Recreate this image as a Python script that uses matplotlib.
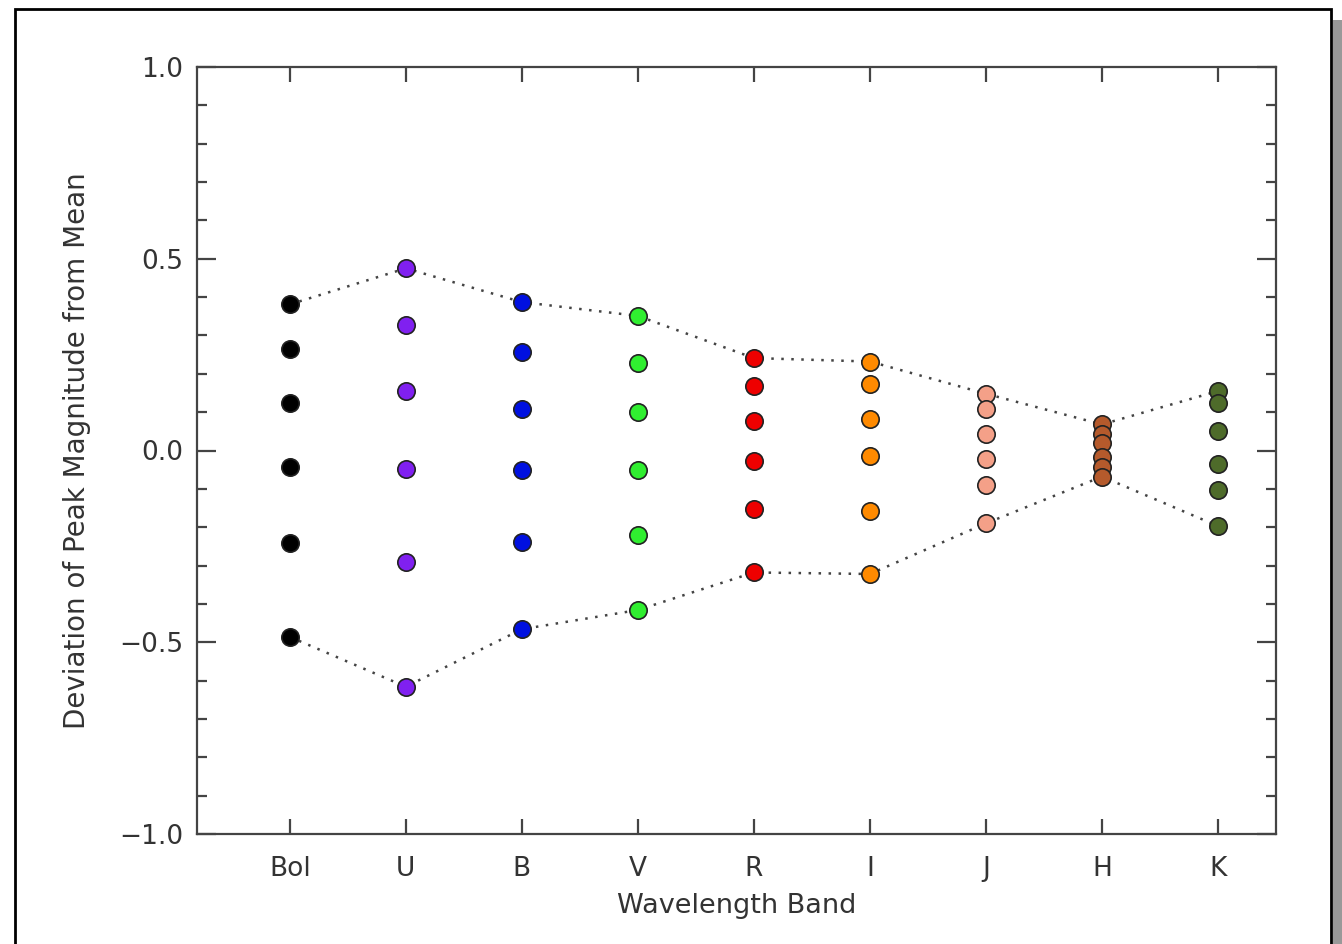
import numpy as np
import matplotlib
matplotlib.use('Agg')
import matplotlib.pyplot as plt
from matplotlib.patches import Rectangle
from matplotlib.ticker import MultipleLocator

# Photometric bands and per-band peak magnitude deviations
bands = ['Bol', 'U', 'B', 'V', 'R', 'I', 'J', 'H', 'K']
dev_bol = [0.381, 0.264, 0.123, -0.042, -0.240, -0.486]
dev_u = [0.475, 0.326, 0.154, -0.047, -0.292, -0.616]
dev_b = [0.387, 0.257, 0.109, -0.052, -0.239, -0.466]
dev_v = [0.351, 0.229, 0.100, -0.052, -0.220, -0.416]
dev_r = [0.241, 0.168, 0.078, -0.028, -0.152, -0.318]
dev_i = [0.232, 0.174, 0.083, -0.015, -0.157, -0.322]
dev_j = [0.148, 0.107, 0.044, -0.022, -0.091, -0.190]
dev_h = [0.068, 0.042, 0.020, -0.018, -0.042, -0.068]
dev_k = [0.155, 0.125, 0.052, -0.035, -0.104, -0.197]
band_colors = ['#000000', '#8020f0', '#0010e0', '#30ee30', '#ee0000',
               '#ff8a00', '#f4a088', '#b55a2c', '#4e6b2a']

all_dev = [dev_bol, dev_u, dev_b, dev_v, dev_r, dev_i, dev_j, dev_h, dev_k]
xpos = np.arange(1, len(bands) + 1)

plt.rcParams['font.family'] = ['DejaVu Sans']
fig = plt.figure(figsize=(13.42, 9.44), dpi=100)

# drop shadow and outer frame
fig.patches.append(Rectangle((1333 / 1342, -0.05), 0.05, 1 - 20 / 944 + 0.05,
                             transform=fig.transFigure, facecolor='#999999',
                             edgecolor='none', zorder=0))
fig.patches.append(Rectangle((15 / 1342, -0.05), (1331 - 15) / 1342, 1 - 9 / 944 + 0.05,
                             transform=fig.transFigure, facecolor='white',
                             edgecolor='black', linewidth=2, zorder=1))

ax = fig.add_axes([197 / 1342, 110 / 944, (1276 - 197) / 1342, (834 - 67) / 944])
ax.set_zorder(2)

# envelope through the extreme values of each band
upper = [max(d) for d in all_dev]
lower = [min(d) for d in all_dev]
ax.plot(xpos, upper, linestyle=(0, (1, 3)), color='#444444', linewidth=1.8, zorder=2)
ax.plot(xpos, lower, linestyle=(0, (1, 3)), color='#444444', linewidth=1.8, zorder=2)

for x, d, c in zip(xpos, all_dev, band_colors):
    ax.plot([x] * len(d), d, 'o', markersize=12.5, markerfacecolor=c,
            markeredgecolor='#222222', markeredgewidth=1.2, linestyle='none', zorder=3)

ax.set_xlim(0.2, 9.5)
ax.set_ylim(-1.0, 1.0)
ax.set_xticks(xpos)
ax.set_xticklabels(bands)
ax.set_yticks([-1.0, -0.5, 0.0, 0.5, 1.0])
ax.set_yticklabels(['\u22121.0', '\u22120.5', '0.0', '0.5', '1.0'])
ax.yaxis.set_minor_locator(MultipleLocator(0.1))

for s in ax.spines.values():
    s.set_color('#444444')
    s.set_linewidth(1.6)

ax.tick_params(axis='x', which='major', direction='in', length=11, width=1.6,
               color='#444444', top=True, labelsize=19, pad=16, labelcolor='#333333')
ax.tick_params(axis='y', which='major', direction='in', length=14, width=1.6,
               color='#444444', right=True, labelsize=19, pad=10, labelcolor='#333333')
ax.tick_params(axis='y', which='minor', direction='in', length=7, width=1.6,
               color='#444444', right=True)

ax.set_xlabel('Wavelength Band', fontsize=19.5, color='#333333', labelpad=8)
ax.set_ylabel('Deviation of Peak Magnitude from Mean', fontsize=20,
              color='#333333', labelpad=20)

fig.savefig('out.png', dpi=100, facecolor='white')
